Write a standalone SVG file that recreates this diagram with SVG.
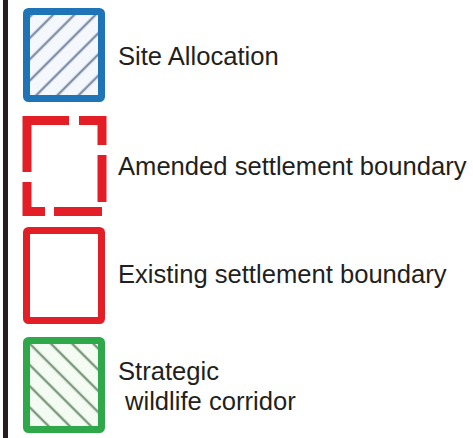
<svg xmlns="http://www.w3.org/2000/svg" width="473" height="438" viewBox="0 0 473 438">
<style>
.lbl{font-family:"Liberation Sans",Arial,sans-serif;font-size:25.6px;fill:#231f20}
.red{fill:none;stroke:#e31e26;stroke-width:9;stroke-linejoin:miter}
</style>
<defs>
<pattern id="hb" patternUnits="userSpaceOnUse" width="15" height="15" patternTransform="rotate(45)">
<rect width="15" height="15" fill="#f4f8fd"/>
<line x1="3" y1="0" x2="3" y2="15" stroke="#7f90a8" stroke-width="2.4"/>
</pattern>
<pattern id="hg" patternUnits="userSpaceOnUse" width="15" height="15" patternTransform="rotate(-45)">
<rect width="15" height="15" fill="#f4fbf3"/>
<line x1="3" y1="0" x2="3" y2="15" stroke="#7b9a7c" stroke-width="2.4"/>
</pattern>
</defs>
<rect x="0" y="0" width="473" height="438" fill="#ffffff"/>
<rect id="frame-bar" x="3" y="0" width="5" height="438" fill="#231f20"/>
<g id="site-allocation">
<rect x="26.5" y="11.5" width="75" height="87" rx="2" fill="url(#hb)" stroke="#1f74b8" stroke-width="7"/>
<text class="lbl" x="118" y="65">Site Allocation</text>
</g>
<g id="amended-boundary">
<path class="red" d="M27 172 V120.5 H69"/>
<path class="red" d="M79 120.5 H102 V145"/>
<path class="red" d="M102 155 V202"/>
<path class="red" d="M27 182 V211.5 H45"/>
<path class="red" d="M54 211.5 H102"/>
<text class="lbl" x="118" y="175">Amended settlement boundary</text>
</g>
<g id="existing-boundary">
<rect x="26.5" y="230.5" width="75" height="90" rx="2" fill="#ffffff" stroke="#e31e26" stroke-width="7"/>
<text class="lbl" x="118" y="283">Existing settlement boundary</text>
</g>
<g id="wildlife-corridor">
<rect x="26.5" y="340.5" width="75" height="89" rx="2" fill="url(#hg)" stroke="#2fa84a" stroke-width="7"/>
<text class="lbl" x="118" y="380">Strategic</text>
<text class="lbl" x="125" y="410">wildlife corridor</text>
</g>
<g id="connectors"/>
</svg>
